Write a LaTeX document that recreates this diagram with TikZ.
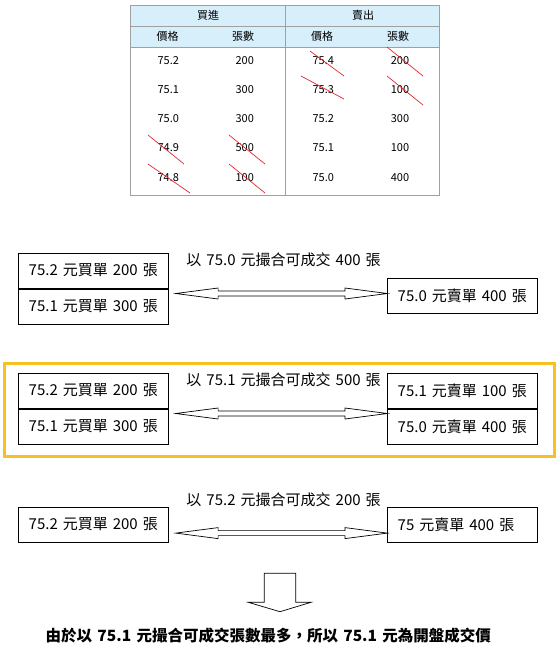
\documentclass[tikz,border=0pt]{standalone}
\usepackage{fontspec}
\setmainfont{Noto Sans CJK TC}[WordSpace=1.5]
\usetikzlibrary{calc}

\definecolor{headblue}{HTML}{D7EEFB}
\definecolor{gridgray}{HTML}{A0A0A0}
\definecolor{strikered}{HTML}{E3262E}
\definecolor{gold}{HTML}{F8C022}

% open double-headed arrow between two points (same height)
\newcommand\twoway[2]{%
  \draw[arrowline] let \p1=(#1), \p2=(#2) in
    (\x1,\y1) -- (\x1+42.3pt,\y1+5.5pt) -- (\x1+42.3pt,\y1+2.5pt)
    -- (\x2-42.3pt,\y1+2.5pt) -- (\x2-42.3pt,\y1+5.5pt) -- (\x2,\y1)
    -- (\x2-42.3pt,\y1-5.5pt) -- (\x2-42.3pt,\y1-2.5pt)
    -- (\x1+42.3pt,\y1-2.5pt) -- (\x1+42.3pt,\y1-5.5pt) -- cycle;}

\begin{document}
\begin{tikzpicture}[x=1pt, y=-1pt,
    cell/.style={font=\fontsize{11}{13}\selectfont, inner sep=0pt},
    order/.style={draw, line width=0.8pt, text width=130pt, inner xsep=10pt,
      inner ysep=0pt, minimum height=35pt, align=left, anchor=north west,
      font=\fontsize{15}{17}\selectfont},
    note/.style={font=\fontsize{15}{17}\selectfont, inner sep=0pt},
    strike/.style={strikered, line width=0.7pt},
    arrowline/.style={line width=0.7pt, line join=miter}]
    \useasboundingbox (0,0) rectangle (560,649);

    % order book
    \fill[headblue] (130,5) rectangle (439,47);
    \draw[gridgray, line width=1pt]
    (130,5) rectangle (439,195)
    (130,26) -- (439,26)
    (130,47) -- (439,47)
    (285,5) -- (285,195);
    \path[every node/.style=cell]
    (208,15.5) node (buy) {買進}
    (363,15.5) node (sell) {賣出}
    (167.5,36.5) node (buyp) {價格}
    (243,36.5) node (buyq) {張數}
    (322,36.5) node (sellp) {價格}
    (398,36.5) node (sellq) {張數}
    (168.3,60.7) node (bp1) {75.2}  (244.7,60.7) node (bq1) {200}
    (168.3,90) node (bp2) {75.1}    (244.7,90) node (bq2) {300}
    (168.3,119) node (bp3) {75.0}   (244.7,119) node (bq3) {300}
    (168.3,147.7) node (bp4) {74.9} (244.7,147.7) node (bq4) {500}
    (168.3,177.7) node (bp5) {74.8} (244.7,177.7) node (bq5) {100}
    (323.3,60.7) node (sp1) {75.4}  (400,60.7) node (sq1) {200}
    (323.3,90) node (sp2) {75.3}    (400,90) node (sq2) {100}
    (323.3,119) node (sp3) {75.2}   (400,119) node (sq3) {300}
    (323.3,147.7) node (sp4) {75.1} (400,147.7) node (sq4) {100}
    (323.3,177.7) node (sp5) {75.0} (400,177.7) node (sq5) {400}
    ;
    \draw[strike]
    (148,135) -- (184,164)  (229,135) -- (265,164)
    (148,164) -- (190,193)  (229,164) -- (265,193)
    (310,51) -- (344,76)    (387,47) -- (423,76)
    (301,76) -- (344,99)    (387,76) -- (423,105);

    % at 75.0
    \node[order] (b1a) at (18.3,252.7) {75.2 元買單 200 張};
    \node[order] (b1b) at (b1a.south west) {75.1 元買單 300 張};
    \node[order] (s1a) at (387.3,277.7) {75.0 元賣單 400 張};
    \node[note] (m1) at (283.6,260) {以 75.0 元撮合可成交 400 張};
    \coordinate (t1) at ([shift={(6.7,5)}]b1a.south east);
    \twoway{t1}{t1 -| s1a.west}

    % at 75.1
    \draw[gold, line width=3pt] (4,363.3) rectangle (554,456.7);
    \node[order] (b2a) at (18.3,372.7) {75.2 元買單 200 張};
    \node[order] (b2b) at (b2a.south west) {75.1 元買單 300 張};
    \node[order] (s2a) at (387.3,372.7) {75.1 元賣單 100 張};
    \node[order] (s2b) at (s2a.south west) {75.0 元賣單 400 張};
    \node[note] (m2) at (283.6,379.3) {以 75.1 元撮合可成交 500 張};
    \coordinate (t2) at ([shift={(6.7,5)}]b2a.south east);
    \twoway{t2}{t2 -| s2a.west}

    % at 75.2
    \node[order] (b3a) at (18.3,506.7) {75.2 元買單 200 張};
    \node[order] (s3a) at (387.3,506.7) {75 元賣單 400 張};
    \node[note] (m3) at (283.6,500) {以 75.2 元撮合可成交 200 張};
    \coordinate (t3) at ([shift={(6.7,-9.4)}]b3a.south east);
    \twoway{t3}{t3 -| s3a.west}

    % result
    \draw[arrowline]
    (264.3,573.3) -- (295.7,573.3) -- (295.7,602.3) -- (311,602.3)
    -- (280,611.7) -- (248.3,602.3) -- (264.3,602.3) -- cycle;
    \node[font=\bfseries\fontsize{15.5}{18}\selectfont, inner sep=0pt] (result)
    at (268.3,635.5) {由於以 75.1 元撮合可成交張數最多，所以 75.1 元為開盤成交價};
\end{tikzpicture}
\end{document}
